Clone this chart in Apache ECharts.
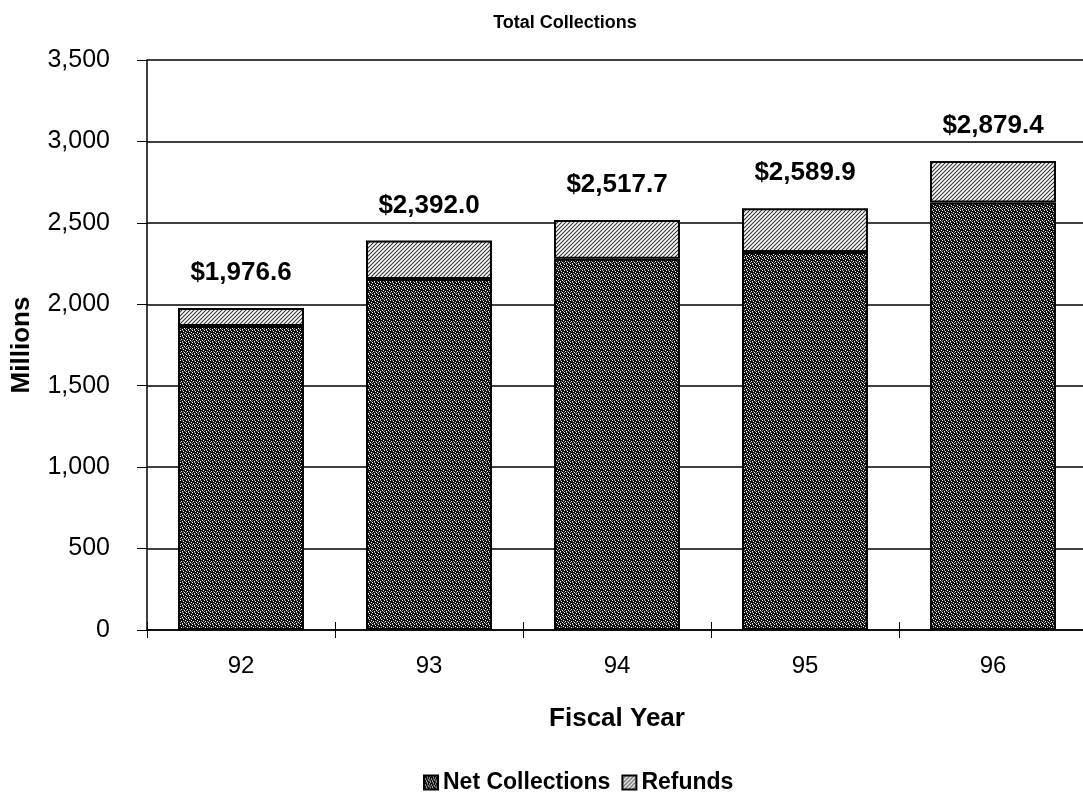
<!DOCTYPE html>
<html>
<head>
<meta charset="utf-8">
<style>html,body{margin:0;padding:0;background:#fff;}#chart{width:1083px;height:797px;}</style>
<script src="https://cdn.jsdelivr.net/npm/echarts@6/dist/echarts.min.js"></script>
</head>
<body>
<div id="chart"></div>
<script>
var categories = ['92', '93', '94', '95', '96'];
var netCollections = [1866.6, 2155.0, 2279.7, 2320.9, 2624.4];
var refunds = [110.0, 237.0, 238.0, 269.0, 255.0];
var yTicks = [0, 500, 1000, 1500, 2000, 2500, 3000, 3500];

function speckle() {
  var c = document.createElement('canvas');
  c.width = 6; c.height = 6;
  var g = c.getContext('2d');
  g.fillStyle = '#111111';
  g.fillRect(0, 0, 6, 6);
  g.fillStyle = '#ffffff';
  var pts = [[0,0],[3,1],[1,3],[4,4],[5,2],[2,5]];
  pts.forEach(function (p) { g.fillRect(p[0], p[1], 1, 1); });
  g.fillStyle = '#8a8a8a';
  [[2,0],[5,5],[0,4],[3,3]].forEach(function (p) { g.fillRect(p[0], p[1], 1, 1); });
  return c;
}
function hatch() {
  var c = document.createElement('canvas');
  c.width = 4; c.height = 4;
  var g = c.getContext('2d');
  g.fillStyle = '#ffffff';
  g.fillRect(0, 0, 4, 4);
  g.strokeStyle = '#333';
  g.lineWidth = 1.1;
  g.beginPath();
  g.moveTo(-1, 5); g.lineTo(5, -1);
  g.moveTo(-1, 1); g.lineTo(1, -1);
  g.moveTo(3, 5); g.lineTo(5, 3);
  g.stroke();
  return c;
}

var font = 'Liberation Sans, Arial, sans-serif';
var chart = echarts.init(document.getElementById('chart'));
chart.setOption({
  animation: false,
  backgroundColor: '#fff',
  title: {
    text: 'Total Collections', left: 560, top: 9, textAlign: 'center',
    textStyle: { fontFamily: font, fontSize: 18, fontWeight: 'bold', color: '#000' }
  },
  legend: {
    data: ['Net Collections', 'Refunds'],
    icon: 'rect',
    left: 418, top: 766, itemWidth: 14, itemHeight: 14, itemGap: 11,
    textStyle: { fontFamily: font, fontSize: 23, fontWeight: 'bold', color: '#000', padding: [0, 0, 0, 0] }
  },
  grid: { left: 147, right: -4, top: 60, bottom: 167, outerBoundsMode: 'none', containLabel: false },
  xAxis: [{
    type: 'category', data: categories,
    name: 'Fiscal Year', nameLocation: 'middle', nameGap: 76,
    nameTextStyle: { fontFamily: font, fontSize: 26, fontWeight: 'bold', color: '#000' },
    axisLine: { lineStyle: { color: '#000', width: 1.5 } },
    axisTick: { show: true, length: 8, lineStyle: { color: '#000' } },
    axisLabel: { fontFamily: font, fontSize: 24, color: '#000', margin: 24 }
  }, {
    type: 'category', data: categories, position: 'bottom',
    axisLine: { show: false },
    axisTick: { show: true, inside: true, length: 8, lineStyle: { color: '#000' } },
    axisLabel: { show: false }
  }],
  yAxis: {
    type: 'value', min: 0, max: 3500, interval: 500,
    name: 'Millions', nameLocation: 'middle', nameGap: 112, nameRotate: 90,
    nameTextStyle: { fontFamily: font, fontSize: 26, fontWeight: 'bold', color: '#000' },
    axisLine: { show: true, lineStyle: { color: '#000', width: 1.5 } },
    axisTick: { show: true, length: 10, lineStyle: { color: '#000' } },
    axisLabel: {
      fontFamily: font, fontSize: 25, color: '#000', margin: 37,
      formatter: function (v) { return yTicks.indexOf(v) >= 0 ? v.toLocaleString('en-US') : ''; }
    },
    splitLine: { show: true, lineStyle: { color: '#000', width: 1.5 } }
  },
  series: [{
    name: 'Net Collections', type: 'bar', stack: 'total', barWidth: '67%',
    data: netCollections,
    itemStyle: { color: { image: speckle(), repeat: 'repeat' }, borderColor: '#000', borderWidth: 2 }
  }, {
    name: 'Refunds', type: 'bar', stack: 'total', barWidth: '67%',
    data: refunds,
    itemStyle: { color: { image: hatch(), repeat: 'repeat' }, borderColor: '#000', borderWidth: 2 },
    label: {
      show: true, position: 'top', distance: 22,
      fontFamily: font, fontSize: 26, fontWeight: 'bold', color: '#000',
      formatter: function (p) {
        var t = netCollections[p.dataIndex] + refunds[p.dataIndex];
        return '$' + t.toLocaleString('en-US', { minimumFractionDigits: 1, maximumFractionDigits: 1 });
      }
    }
  }]
});
</script>
</body>
</html>
